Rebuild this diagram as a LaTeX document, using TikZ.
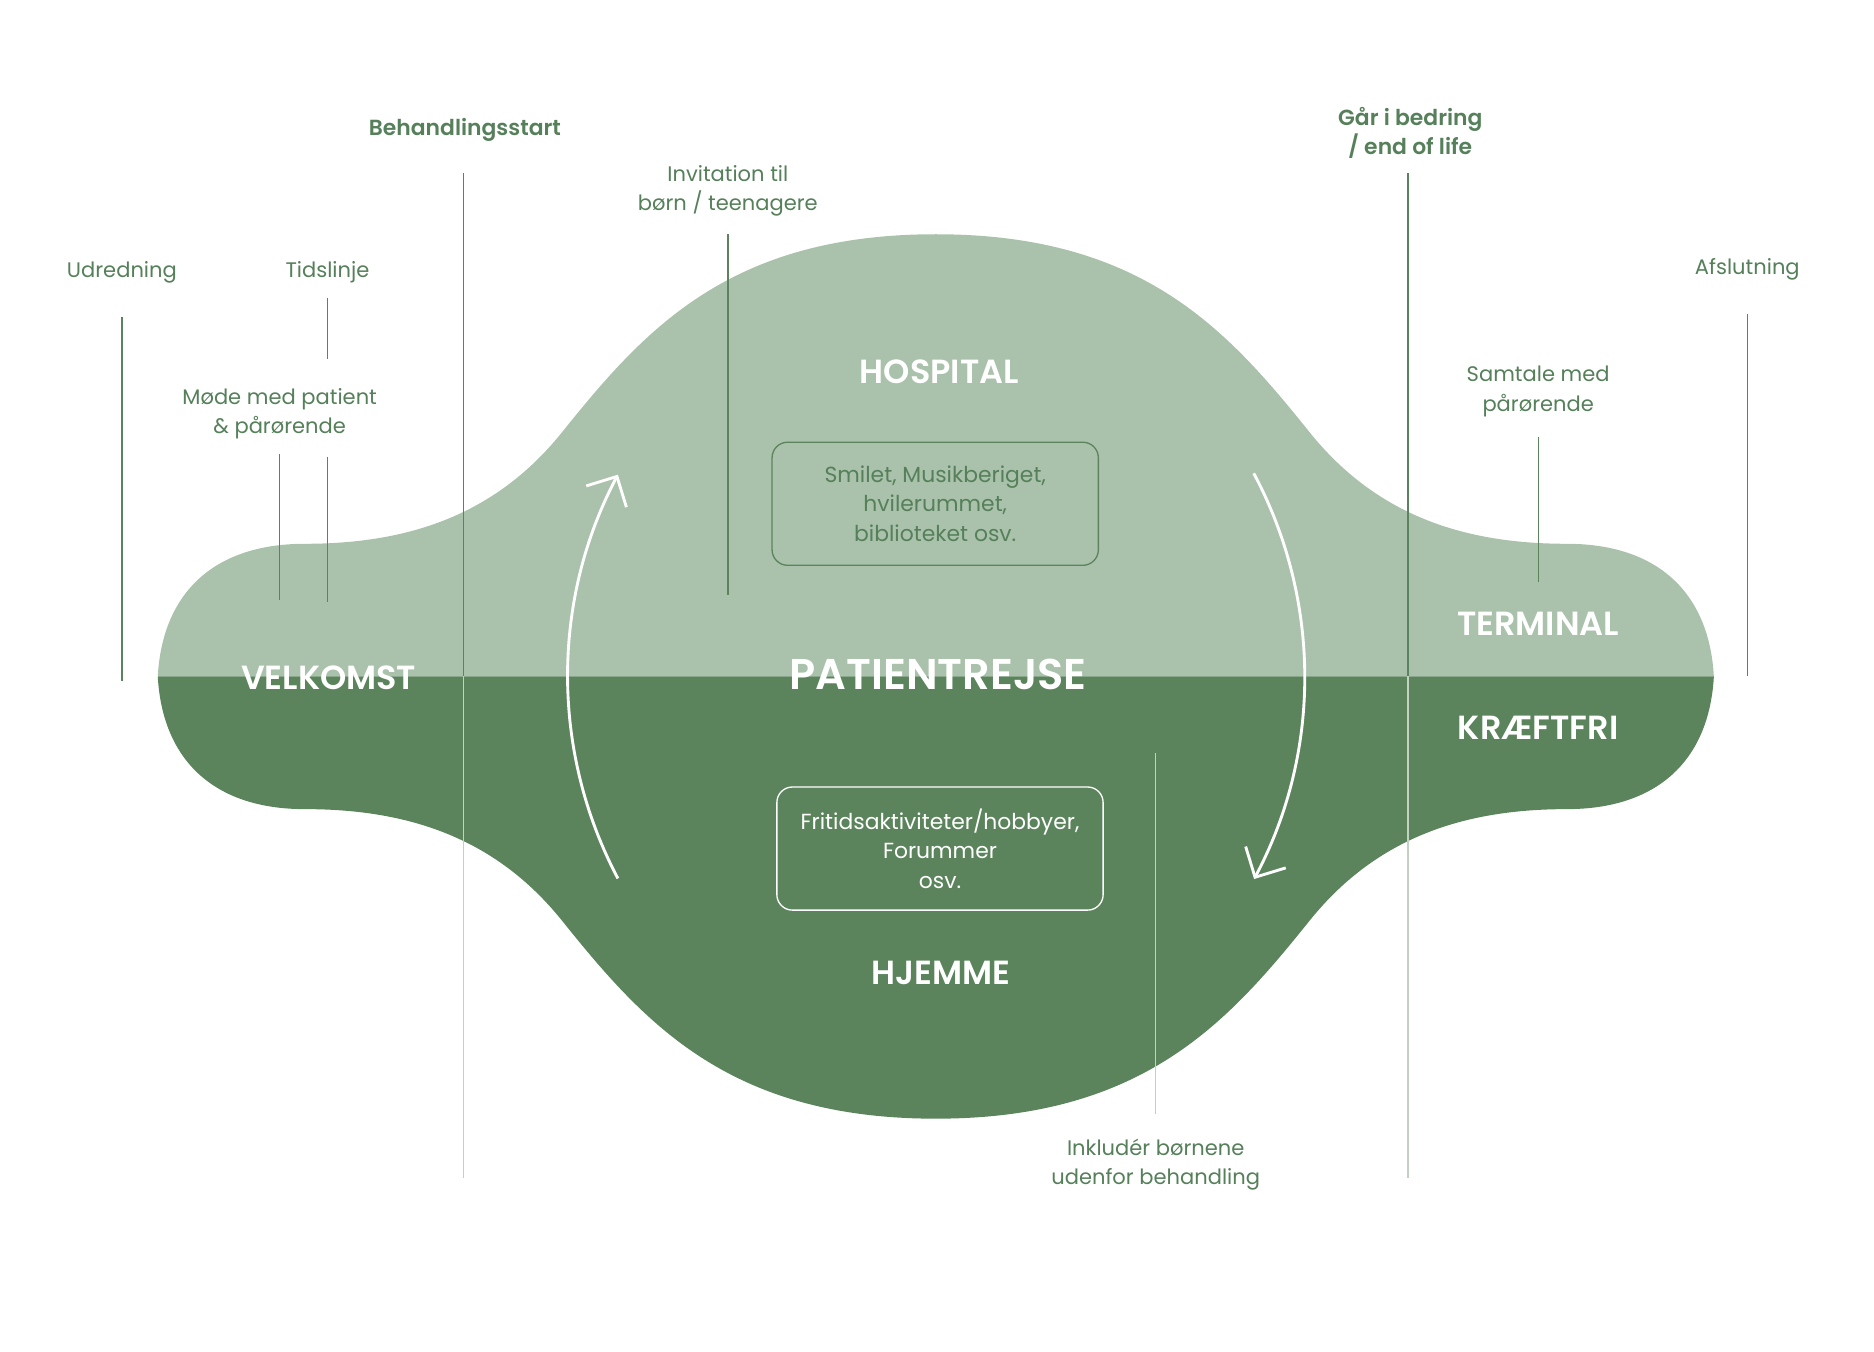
\documentclass[tikz,border=0pt]{standalone}
\usepackage{fontspec}
\setmainfont{Poppins}[BoldFont={Poppins SemiBold}]
\usetikzlibrary{arrows.meta}
\definecolor{lightg}{HTML}{AAC2AB}
\definecolor{darkg}{HTML}{5B845C}
\definecolor{textg}{HTML}{55805A}
\definecolor{linel}{HTML}{C2D2C2}
\tikzset{
  lbl/.style={text=textg, align=center, font=\fontsize{17.6}{24.5}\selectfont, inner sep=0pt},
  blbl/.style={text=textg, align=center, font=\bfseries\fontsize{18.3}{24.5}\selectfont, inner sep=0pt},
  head/.style={text=white, font=\bfseries\fontsize{28}{32}\selectfont, inner sep=0pt},
  tick/.style={draw=darkg, line width=1.1pt},
  tickl/.style={draw=linel, line width=1.1pt},
  infobox/.style={rounded corners=13pt, line width=1.1pt, minimum width=273pt, minimum height=103pt, align=center, inner sep=0pt, font=\fontsize{18.3}{24.5}\selectfont},
  cyc/.style={draw=white, line width=2.4pt, -{Straight Barb[length=19pt,width=38pt,line width=2.4pt]}}
}
\begin{document}
\begin{tikzpicture}[x=1pt,y=-1pt]
\useasboundingbox (0,0) rectangle (1568,1131);
\fill[white] (0,0) rectangle (1568,1131);
% upper half (hospital)
\fill[lightg] (132,566) .. controls (136,495) and (180,455) .. (255,455)
  .. controls (340,455) and (413.6,432) .. (470,362)
  .. controls (539,276) and (610,196) .. (783,196)
  .. controls (956,196) and (1027,276) .. (1096,362)
  .. controls (1152.4,432) and (1226,455) .. (1311,455)
  .. controls (1386,455) and (1430,495) .. (1434,566) -- cycle;
% lower half (home)
\fill[darkg] (132,566) .. controls (136,637) and (180,677) .. (255,677)
  .. controls (340,677) and (413.6,700) .. (470,770)
  .. controls (539,856) and (610,936) .. (783,936)
  .. controls (956,936) and (1027,856) .. (1096,770)
  .. controls (1152.4,700) and (1226,677) .. (1311,677)
  .. controls (1386,677) and (1430,637) .. (1434,566) -- cycle;

% vertical marker lines
\draw[tick] (102,265) -- (102,570);
\draw[tick] (274,249) -- (274,300);
\draw[tick] (234,380) -- (234,502);
\draw[tick] (274,382) -- (274,504);
\draw[tick] (388,145) -- (388,566);
\draw[tickl] (388,566) -- (388,986);
\draw[tick] (609,196) -- (609,498);
\draw[tick] (1178,145) -- (1178,566);
\draw[tickl] (1178,566) -- (1178,986);
\draw[tick] (1462,263) -- (1462,566);
\draw[tick] (1287,366) -- (1287,487);
\draw[tickl] (967,630) -- (967,932);

% labels
\node[lbl] (udr) at (102,228) {Udredning};
\node[lbl] (tid) at (274,228) {Tidslinje};
\node[lbl] (mode) at (234,346) {Møde med patient\\\& pårørende};
\node[blbl] (beh) at (389,109) {Behandlingsstart};
\node[lbl] (inv) at (609,159.5) {Invitation til\\børn / teenagere};
\node[blbl] (gaar) at (1180,111) {Går i bedring\\/ end of life};
\node[lbl] (afs) at (1462,225) {Afslutning};
\node[lbl] (samt) at (1287,327.5) {Samtale med\\pårørende};
\node[lbl] (ink) at (967,974.5) {Inkludér børnene\\udenfor behandling};

% headings
\node[head] (hosp) at (786,311) {HOSPITAL};
\node[head] (velk) at (275,567) {VELKOMST};
\node[head, font=\bfseries\fontsize{36}{40}\selectfont] (pt) at (785,564) {PATIENTREJSE};
\node[head] (term) at (1287,522) {TERMINAL};
\node[head] (kraeft) at (1287,609) {KRÆFTFRI};
\node[head] (hjem) at (787,814) {HJEMME};

% boxes
\node[infobox, draw=darkg, text=textg] (hbox) at (782.5,421.5) {Smilet, Musikberiget,\\hvilerummet,\\biblioteket osv.};
\node[infobox, draw=white, text=white] (fbox) at (786.5,710) {Fritidsaktiviteter/hobbyer,\\Forummer\\osv.};

% cycle arrows
\draw[cyc] (517,735) arc[start angle=152.1, end angle=207.9, radius=361];
\draw[cyc] (1049,396) arc[start angle=-28.1, end angle=28, radius=361];
\end{tikzpicture}
\end{document}
